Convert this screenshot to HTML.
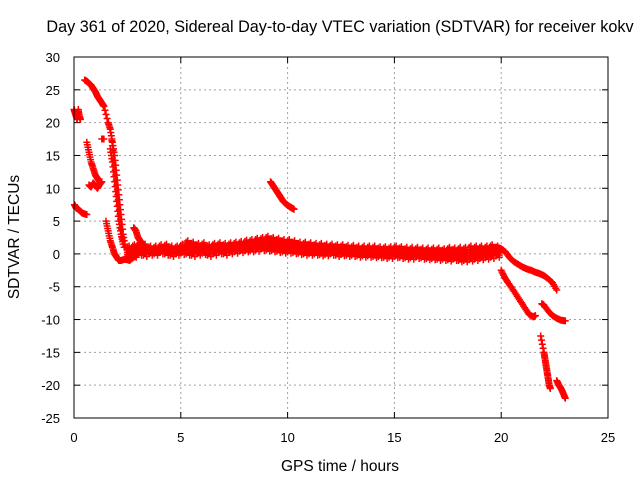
<!DOCTYPE html>
<html><head><meta charset="utf-8"><style>
body{margin:0;background:#fff;}
svg text{font-family:"Liberation Sans",sans-serif;font-size:13px;fill:#000;}
svg text.big{font-size:15.5px;}
svg text.title{font-size:16.2px;}
</style></head><body>
<svg id="chart" width="640" height="480">
<text class="title" x="340" y="32" text-anchor="middle">Day 361 of 2020, Sidereal Day-to-day VTEC variation (SDTVAR) for receiver kokv</text>
<text class="big" x="340" y="471" text-anchor="middle">GPS time / hours</text>
<text class="big" transform="translate(19,237) rotate(-90)" text-anchor="middle">SDTVAR / TECUs</text>
<g id="grid"></g><g id="ticks"></g><g id="pts"></g>
<rect x="74" y="57" width="534" height="361" fill="none" stroke="#000" stroke-width="1"/>
</svg>
<script>
const xTicks=[0,5,10,15,20,25];
const yTicks=[-25,-20,-15,-10,-5,0,5,10,15,20,25,30];
const segStartHigh=[[0,22],[0.05,21.5],[0.1,21],[0.15,20.5],[0.2,22],[0.25,21],[0.3,20.5]];
const segStartLow=[[0.02,7.5],[0.1,7],[0.2,6.8],[0.3,6.5],[0.4,6.2],[0.6,6]];
const segArc=[[0.5,26.5],[0.6,26.3],[0.7,26],[0.8,25.7],[0.9,25.2],[1.0,24.7],[1.1,24],[1.2,23.5],[1.3,23],[1.4,22.5],[1.6,20],[1.7,19],[1.8,17],[1.9,15],[2.0,12],[2.1,9],[2.2,6],[2.3,3],[2.4,1]];
const segMid=[[0.6,17],[0.7,15.5],[0.8,14],[0.9,13],[1.0,12],[1.1,11.5],[1.2,11]];
const segCluster=[[0.7,10.5],[0.8,10.2],[0.9,10.8],[1.0,10.4],[1.1,10],[1.2,10.6],[1.3,11]];
const segDot=[[1.3,17.5],[1.4,17.5]];
const segLow=[[1.5,5],[1.6,3.5],[1.7,2],[1.8,1],[1.9,0],[2.0,-0.5],[2.1,-1],[2.2,-1],[2.4,-0.8],[2.6,-1],[2.8,-0.5],[3.0,0]];
const segFallA=[[1.7,16],[1.8,14],[1.9,11],[2.0,8],[2.1,5],[2.2,3],[2.3,1.5]];
const segFallB=[[1.75,18],[1.85,15],[1.95,12],[2.05,9],[2.15,6],[2.25,3],[2.35,1]];
const segBump=[[2.8,4],[2.9,3.5],[3.0,2.5],[3.1,2],[3.2,1.5],[3.3,1]];
const bandTimes=[2.5,2.75,3,3.25,3.5,3.75,4,4.25,4.5,4.75,5,5.25,5.5,5.75,6,6.25,6.5,6.75,7,7.25,7.5,7.75,8,8.25,8.5,8.75,9,9.25,9.5,9.75,10,10.25,10.5,10.75,11,11.25,11.5,11.75,12,12.25,12.5,12.75,13,13.25,13.5,13.75,14,14.25,14.5,14.75,15,15.25,15.5,15.75,16,16.25,16.5,16.75,17,17.25,17.5,17.75,18,18.25,18.5,18.75,19,19.25,19.5,19.75];
const bandUpper=[1,1.2,1.5,1.3,1,1,1.2,1.3,1,1,1.3,1.8,1.6,1.4,1.5,1.2,1.4,1.5,1.4,1.5,1.6,1.7,1.9,2,2.2,2.3,2.5,2.3,2.2,2,2,1.8,1.6,1.6,1.5,1.4,1.4,1.3,1.3,1.2,1.2,1.1,1.1,1,1,1,1,0.9,0.9,0.9,1,0.9,0.8,0.8,0.8,0.7,0.7,0.7,0.7,0.6,0.8,0.7,0.8,0.8,1,1,1,1,1.2,1];
const bandLower=[-0.5,-0.3,0,-0.2,0,0,0.2,0,-0.2,0,0.1,0,-0.2,0,0.1,-0.2,0,0.2,0,0.2,0.3,0.4,0.5,0.5,0.6,0.7,0.6,0.5,0.4,0.3,0.3,0.2,0.1,0,0,0,-0.1,-0.1,0,-0.2,-0.1,-0.2,-0.2,-0.3,-0.3,-0.3,-0.4,-0.4,-0.5,-0.5,-0.4,-0.5,-0.6,-0.6,-0.5,-0.6,-0.7,-0.7,-0.8,-0.8,-0.9,-0.8,-1,-1,-0.9,-0.8,-0.7,-0.6,-0.5,-0.3];
const segHump=[[9.2,11],[9.3,10.5],[9.4,10],[9.5,9.5],[9.6,9],[9.7,8.5],[9.8,8],[9.9,7.7],[10.0,7.4],[10.1,7.2],[10.2,7],[10.3,6.8]];
const segEnd1=[[19.6,0.5],[19.8,1],[20.0,0.8],[20.2,0.3],[20.4,-0.6],[20.6,-1.2],[20.8,-1.6],[21.0,-2],[21.2,-2.3],[21.4,-2.5],[21.6,-2.8],[21.8,-3],[22.0,-3.3],[22.2,-3.8],[22.4,-4.4],[22.6,-5.5]];
const segEnd2a=[[20.0,-2.5],[20.15,-3.5],[20.3,-4.3],[20.5,-5.2],[20.7,-6.2],[20.9,-7.2],[21.1,-8.2],[21.3,-9.2],[21.5,-9.6],[21.6,-9.4]];
const segEnd2b=[[21.9,-7.6],[22.0,-7.8],[22.2,-8.7],[22.4,-9.4],[22.6,-9.8],[22.8,-10.1],[23.0,-10.2]];
const segEnd3a=[[21.85,-12.5],[22.0,-15],[22.05,-16],[22.1,-17],[22.15,-18],[22.2,-19],[22.25,-20],[22.3,-20.5]];
const segEnd3b=[[22.6,-19.3],[22.7,-20],[22.8,-20.5],[22.9,-21.2],[23.0,-22]];
const X0=74,X1=608,Y0=418,Y1=57;
const sx=t=>X0+(t-0)/(25-0)*(X1-X0);
const sy=v=>Y0-(v+25)/55*(Y0-Y1);
const NS='http://www.w3.org/2000/svg';
const grid=document.getElementById('grid'),ticks=document.getElementById('ticks'),pts=document.getElementById('pts');
function mk(tag,attrs,parent){const e=document.createElementNS(NS,tag);for(const k in attrs)e.setAttribute(k,attrs[k]);parent.appendChild(e);return e;}
xTicks.forEach(t=>{const x=sx(t);
 if(t>0&&t<25){const g=mk('line',{x1:x,x2:x,y1:Y1,y2:Y0,stroke:'#a0a0a0','stroke-dasharray':'2,3'},grid);
 
 }
 mk('line',{x1:x,x2:x,y1:Y0,y2:Y0-6,stroke:'#000'},ticks);mk('line',{x1:x,x2:x,y1:Y1,y2:Y1+6,stroke:'#000'},ticks);
 const l=mk('text',{x:x,y:Y0+24,'text-anchor':'middle'},ticks);l.textContent=t;
 
 });
yTicks.forEach(v=>{const y=sy(v);
 if(v>-25&&v<30){const g=mk('line',{x1:X0,x2:X1,y1:y,y2:y,stroke:'#a0a0a0','stroke-dasharray':'2,3'},grid);
 
 }
 mk('line',{x1:X0,x2:X0+6,y1:y,y2:y,stroke:'#000'},ticks);mk('line',{x1:X1,x2:X1-6,y1:y,y2:y,stroke:'#000'},ticks);
 const l=mk('text',{x:X0-14,y:y+5,'text-anchor':'end'},ticks);l.textContent=v;
 
 });
let d='';
function plus(t,v){const x=sx(t),y=sy(v);d+=`M${(x-3.5).toFixed(1)} ${y.toFixed(1)}h7M${x.toFixed(1)} ${(y-3.5).toFixed(1)}v7`;}
function seg(arr){for(let i=0;i<arr.length;i++){plus(arr[i][0],arr[i][1]);if(i+1<arr.length){const a=arr[i],b=arr[i+1];
 for(let k=1;k<4;k++){const f=k/4;plus(a[0]+(b[0]-a[0])*f,a[1]+(b[1]-a[1])*f);}}}}
[segStartHigh,segStartLow,segArc,segMid,segCluster,segDot,segLow,segFallA,segFallB,segBump,segHump,segEnd1,segEnd2a,segEnd2b,segEnd3a,segEnd3b].forEach(seg);
bandTimes.forEach((t,i)=>{const u=bandUpper[i],l=bandLower[i];
 for(let k=0;k<=4;k++){const v=l+(u-l)*k/4;plus(t,v);plus(t+0.08,v+0.2);plus(t+0.16,v-0.2);}});
const p=mk('path',{d:d,stroke:'#ff0000','stroke-width':1.5,fill:'none'},pts);


</script>
</body></html>
